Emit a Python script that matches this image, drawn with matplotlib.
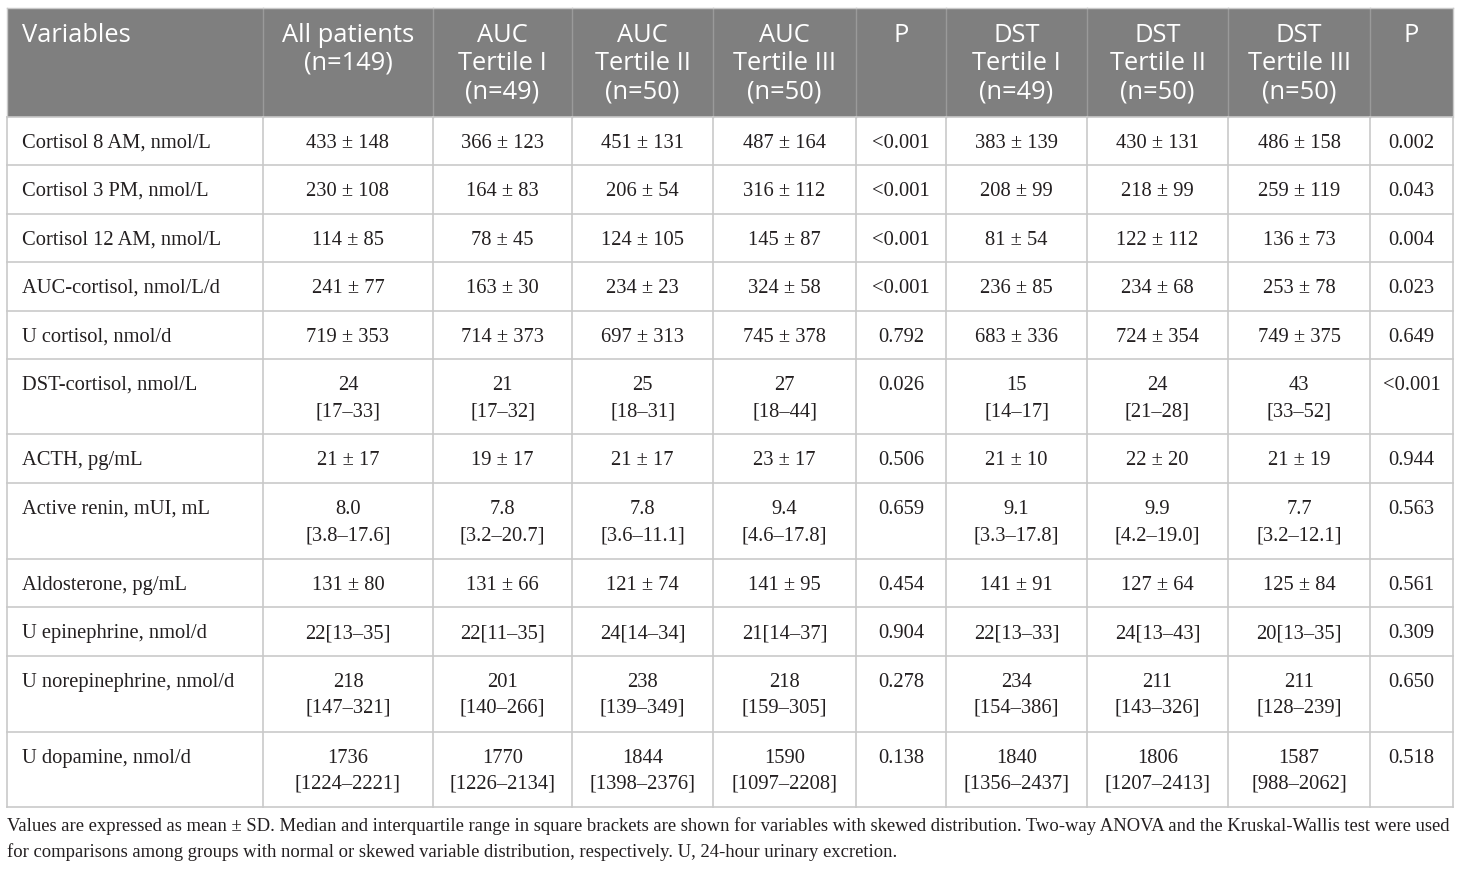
import matplotlib
matplotlib.use("Agg")
import matplotlib.pyplot as plt
from matplotlib.lines import Line2D
from matplotlib.patches import Rectangle

# ---------------- data ----------------
header_labels = [
    ["Variables"],
    ["All patients", "(n=149)"],
    ["AUC", "Tertile I", "(n=49)"],
    ["AUC", "Tertile II", "(n=50)"],
    ["AUC", "Tertile III", "(n=50)"],
    ["P"],
    ["DST", "Tertile I", "(n=49)"],
    ["DST", "Tertile II", "(n=50)"],
    ["DST", "Tertile III", "(n=50)"],
    ["P"],
]

variables = [
    "Cortisol 8 AM, nmol/L",
    "Cortisol 3 PM, nmol/L",
    "Cortisol 12 AM, nmol/L",
    "AUC-cortisol, nmol/L/d",
    "U cortisol, nmol/d",
    "DST-cortisol, nmol/L",
    "ACTH, pg/mL",
    "Active renin, mUI, mL",
    "Aldosterone, pg/mL",
    "U epinephrine, nmol/d",
    "U norepinephrine, nmol/d",
    "U dopamine, nmol/d",
]

all_patients = ["433 ± 148", "230 ± 108", "114 ± 85", "241 ± 77", "719 ± 353",
                "24\n[17–33]", "21 ± 17", "8.0\n[3.8–17.6]", "131 ± 80",
                "22[13–35]", "218\n[147–321]", "1736\n[1224–2221]"]
auc_t1 = ["366 ± 123", "164 ± 83", "78 ± 45", "163 ± 30", "714 ± 373",
          "21\n[17–32]", "19 ± 17", "7.8\n[3.2–20.7]", "131 ± 66",
          "22[11–35]", "201\n[140–266]", "1770\n[1226–2134]"]
auc_t2 = ["451 ± 131", "206 ± 54", "124 ± 105", "234 ± 23", "697 ± 313",
          "25\n[18–31]", "21 ± 17", "7.8\n[3.6–11.1]", "121 ± 74",
          "24[14–34]", "238\n[139–349]", "1844\n[1398–2376]"]
auc_t3 = ["487 ± 164", "316 ± 112", "145 ± 87", "324 ± 58", "745 ± 378",
          "27\n[18–44]", "23 ± 17", "9.4\n[4.6–17.8]", "141 ± 95",
          "21[14–37]", "218\n[159–305]", "1590\n[1097–2208]"]
p_auc = ["<0.001", "<0.001", "<0.001", "<0.001", "0.792", "0.026", "0.506",
         "0.659", "0.454", "0.904", "0.278", "0.138"]
dst_t1 = ["383 ± 139", "208 ± 99", "81 ± 54", "236 ± 85", "683 ± 336",
          "15\n[14–17]", "21 ± 10", "9.1\n[3.3–17.8]", "141 ± 91",
          "22[13–33]", "234\n[154–386]", "1840\n[1356–2437]"]
dst_t2 = ["430 ± 131", "218 ± 99", "122 ± 112", "234 ± 68", "724 ± 354",
          "24\n[21–28]", "22 ± 20", "9.9\n[4.2–19.0]", "127 ± 64",
          "24[13–43]", "211\n[143–326]", "1806\n[1207–2413]"]
dst_t3 = ["486 ± 158", "259 ± 119", "136 ± 73", "253 ± 78", "749 ± 375",
          "43\n[33–52]", "21 ± 19", "7.7\n[3.2–12.1]", "125 ± 84",
          "20[13–35]", "211\n[128–239]", "1587\n[988–2062]"]
p_dst = ["0.002", "0.043", "0.004", "0.023", "0.649", "<0.001", "0.944",
         "0.563", "0.561", "0.309", "0.650", "0.518"]

footnote = [
    "Values are expressed as mean ± SD. Median and interquartile range in square brackets are shown for variables with skewed distribution. Two-way ANOVA and the Kruskal-Wallis test were used",
    "for comparisons among groups with normal or skewed variable distribution, respectively. U, 24-hour urinary excretion.",
]

# ---------------- layout (pixels) ----------------
W, H = 1460, 869
col_edges = [7, 263, 433, 572, 713, 856, 946, 1087, 1228, 1370, 1453]
row_edges = [117, 165, 214, 262, 311, 359, 434, 483, 559, 607, 656, 732, 807]
header_top = 8

header_bg = "#7f7f7f"
grid_col = "#c9c9c9"
text_col = "#231f20"

fig = plt.figure(figsize=(W / 100, H / 100), dpi=100)
ax = fig.add_axes([0, 0, 1, 1])
ax.set_xlim(0, W)
ax.set_ylim(H, 0)
ax.axis("off")

# header background
ax.add_patch(Rectangle((col_edges[0], header_top), col_edges[-1] - col_edges[0],
                       row_edges[0] - header_top, facecolor=header_bg, edgecolor="none", zorder=1))
# header separators
for x in col_edges[1:-1]:
    ax.add_line(Line2D([x, x], [header_top, row_edges[0]], color="#9a9a9a", lw=1.0, zorder=2))

# body grid
for y in row_edges:
    ax.add_line(Line2D([col_edges[0], col_edges[-1]], [y, y], color=grid_col, lw=1.2, zorder=2))
for x in col_edges:
    ax.add_line(Line2D([x, x], [row_edges[0], row_edges[-1]], color=grid_col, lw=1.2, zorder=2))
ax.add_line(Line2D([col_edges[0], col_edges[-1]], [header_top, header_top], color=grid_col, lw=1.0, zorder=2))
for x in (col_edges[0], col_edges[-1]):
    ax.add_line(Line2D([x, x], [header_top, row_edges[0]], color=grid_col, lw=1.0, zorder=2))

# header text
head_font = "Open Sans"
head_size = 18.4
head_base = [42, 70, 98.5]
for ci, lines in enumerate(header_labels):
    if ci == 0:
        x, ha = col_edges[0] + 15, "left"
    else:
        x, ha = (col_edges[ci] + col_edges[ci + 1]) / 2, "center"
    for li, s in enumerate(lines):
        ax.text(x, head_base[li], s, ha=ha, va="baseline", color="white",
                fontsize=head_size, family=head_font, zorder=3)

# body text
body_font = ["Liberation Serif", "DejaVu Serif"]
body_size = 14.8
columns = [variables, all_patients, auc_t1, auc_t2, auc_t3, p_auc,
           dst_t1, dst_t2, dst_t3, p_dst]
for ci, col in enumerate(columns):
    for ri, val in enumerate(col):
        top = row_edges[ri]
        if ci == 0:
            x, ha = col_edges[0] + 15, "left"
        else:
            x, ha = (col_edges[ci] + col_edges[ci + 1]) / 2, "center"
        for li, s in enumerate(val.split("\n")):
            ax.text(x, top + 31 + 26 * li, s, ha=ha, va="baseline", color=text_col,
                    fontsize=body_size, family=body_font, zorder=3)

# footnote, fit first line to table width
fig.canvas.draw()
renderer = fig.canvas.get_renderer()
fs = 13.5
t = ax.text(col_edges[0], 831, footnote[0], ha="left", va="baseline", color=text_col,
            fontsize=fs, family=body_font)
wpx = t.get_window_extent(renderer).width
target = col_edges[-1] - col_edges[0] - 2
fs = fs * target / wpx
t.set_fontsize(fs)
ax.text(col_edges[0], 857, footnote[1], ha="left", va="baseline", color=text_col,
        fontsize=fs, family=body_font)

fig.savefig("out.png", dpi=100, facecolor="white")
